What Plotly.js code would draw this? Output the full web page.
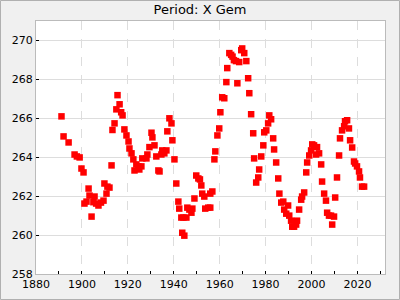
<!DOCTYPE html>
<html>
<head>
<meta charset="utf-8">
<script src="https://cdn.plot.ly/plotly-3.0.1.min.js"></script>
<style>html,body{margin:0;padding:0;background:#f0f0f0;}#chart{width:400px;height:300px;}</style>
</head>
<body>
<div id="chart"></div>
<script>
const years = [1891.1,1892.0,1894.2,1896.8,1897.8,1899.0,1899.8,1900.7,1901.1,1902.0,1902.9,1903.3,1904.2,1905.0,1905.5,1906.2,1907.2,1908.3,1909.4,1909.8,1910.7,1911.1,1912.0,1912.9,1913.3,1914.2,1915.0,1915.5,1916.4,1917.1,1917.7,1918.5,1919.4,1920.3,1920.7,1921.6,1922.4,1922.9,1923.7,1924.6,1925.0,1925.9,1926.3,1928.1,1928.5,1929.4,1930.3,1930.7,1931.6,1932.4,1933.3,1933.8,1934.6,1935.0,1935.9,1936.8,1937.2,1938.1,1939.0,1939.4,1940.3,1941.1,1942.0,1942.4,1943.3,1943.7,1944.2,1944.6,1945.5,1945.9,1946.8,1947.7,1948.1,1949.0,1949.8,1950.7,1951.4,1952.0,1952.4,1953.3,1953.7,1955.0,1955.9,1955.9,1956.8,1957.7,1958.1,1959.0,1959.8,1960.3,1961.1,1962.0,1962.9,1963.3,1964.2,1965.0,1965.6,1966.2,1967.1,1967.7,1968.5,1969.4,1969.8,1970.7,1971.6,1972.4,1972.9,1973.7,1974.6,1975.0,1975.9,1976.8,1977.2,1978.1,1979.0,1979.4,1980.3,1981.1,1981.6,1982.4,1983.3,1983.7,1984.6,1985.5,1986.0,1986.8,1987.7,1988.1,1989.0,1989.8,1990.3,1991.1,1991.6,1992.4,1993.3,1993.7,1994.6,1995.5,1995.9,1996.8,1997.7,1998.1,1999.0,1999.8,2000.3,2001.1,2002.0,2002.4,2003.3,2004.2,2004.6,2005.5,2006.3,2006.8,2007.6,2008.5,2009.0,2009.8,2010.3,2011.1,2012.0,2012.4,2013.3,2014.2,2014.6,2015.5,2016.3,2016.8,2017.7,2018.5,2019.0,2019.8,2020.7,2021.1,2022.0,2022.9];
const periods = [266.10,265.07,264.76,264.14,264.04,263.99,263.42,263.22,261.62,261.72,262.39,262.03,260.95,261.69,261.98,261.62,261.52,261.67,261.77,262.65,262.13,262.49,262.44,263.58,265.40,265.74,266.46,267.19,266.72,266.31,266.15,265.43,265.12,264.81,264.45,264.20,263.89,263.32,263.63,263.53,263.37,263.53,263.94,263.94,264.14,264.52,265.26,265.02,264.61,264.04,263.32,263.27,264.14,264.35,264.20,264.35,265.33,266.00,265.74,264.87,263.89,262.65,261.72,261.36,260.90,260.12,260.90,259.97,260.90,261.41,261.31,261.15,261.36,261.88,263.06,262.91,262.86,262.55,262.13,261.98,261.36,261.41,261.41,262.13,262.24,263.89,264.30,265.12,265.48,266.31,267.08,267.03,267.86,268.58,269.35,269.26,269.17,268.99,268.94,267.80,268.89,269.50,269.59,269.35,268.94,268.06,267.29,266.21,265.23,263.94,262.70,262.96,263.37,264.04,264.61,265.28,265.38,265.74,266.15,265.95,264.97,264.40,263.73,262.91,262.13,261.67,261.72,261.31,261.10,261.52,261.00,260.74,260.43,260.43,260.54,260.74,261.31,261.82,261.98,262.19,263.22,263.73,264.09,264.35,264.66,264.61,264.14,264.52,264.20,263.63,262.75,262.13,261.77,261.15,261.00,261.00,260.54,260.95,261.93,262.96,264.09,264.97,265.38,265.59,265.85,265.90,265.48,264.87,264.50,263.78,263.68,263.53,263.27,262.96,262.49,262.49];
const titleText = 'Period: X Gem';

const trace = {
  x: years, y: periods, type: 'scatter', mode: 'markers',
  marker: {symbol: 'square', size: 6.5, color: '#ff0000', line: {width: 0}},
  hoverinfo: 'skip'
};
const font = {family: 'DejaVu Sans, sans-serif', size: 11, color: '#000'};
const W = 400, H = 300, ml = 36, mr = 15, mt = 21, mb = 26;
const pw = W - ml - mr, ph = H - mt - mb;
const layout = {
  width: W, height: H,
  paper_bgcolor: '#f0f0f0', plot_bgcolor: '#ffffff',
  margin: {l: ml, r: mr, t: mt, b: mb, pad: 0},
  showlegend: false,
  font: font,
  title: {text: titleText, x: 0.5, xanchor: 'center', y: 0.985, yanchor: 'top', font: {family: 'DejaVu Sans, sans-serif', size: 13, color: '#000'}},
  xaxis: {
    range: [1880, 2032], tickmode: 'linear', tick0: 1880, dtick: 20,
    ticks: 'inside', ticklen: 3, tickcolor: '#000', tickwidth: 1,
    showgrid: true, gridcolor: '#dddddd', griddash: 'dash', gridwidth: 1,
    minor: {dtick: 10, tick0: 1880, ticks: 'inside', ticklen: 3, tickcolor: '#000', showgrid: false},
    showline: true, linecolor: '#bbbbbb', linewidth: 1, mirror: true,
    zeroline: false, tickfont: font
  },
  yaxis: {
    range: [258, 271], tickmode: 'linear', tick0: 258, dtick: 2,
    ticks: 'inside', ticklen: 3, tickcolor: '#000', tickwidth: 1,
    showgrid: true, gridcolor: '#dddddd', gridwidth: 1,
    showline: true, linecolor: '#bbbbbb', linewidth: 1, mirror: true,
    zeroline: false, tickfont: font
  },
  shapes: [{
    type: 'rect', xref: 'paper', yref: 'paper', layer: 'above',
    x0: (-ml + 0.5) / pw, x1: (pw + mr - 0.5) / pw,
    y0: (-mb + 0.5) / ph, y1: (ph + mt - 0.5) / ph,
    line: {color: '#b0b0b0', width: 1}, fillcolor: 'rgba(0,0,0,0)'
  }]
};
Plotly.newPlot('chart', [trace], layout, {staticPlot: true, displayModeBar: false});
</script>
</body>
</html>
